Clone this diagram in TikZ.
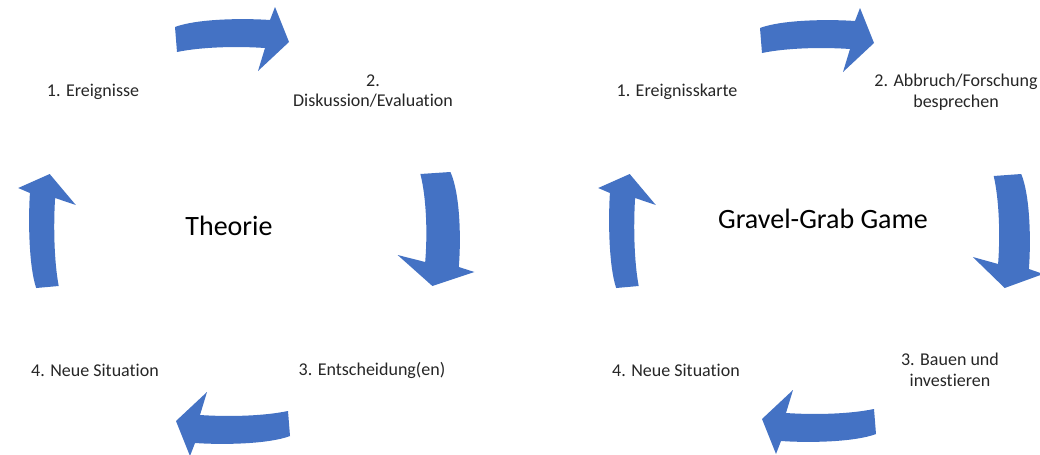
\documentclass[tikz,border=0pt]{standalone}
\usepackage{fontspec}
\setmainfont[Ligatures=NoCommon]{Carlito}
\definecolor{cycleblue}{RGB}{68,114,196}
\tikzset{
  lbl/.style={font=\fontsize{13.5}{15.5}\selectfont, align=center, text=black!85},
  ttl/.style={font=\fontsize{21}{24}\selectfont, text=black},
  blockarrow/.style={fill=cycleblue, draw=none},
}
% curved block arrow pointing right, centred at the origin
\newcommand{\bentarrow}[4]{% centre, rotation, cross scale, name
  \begin{scope}[shift={#1}, rotate=#2, yscale=#3]
    \path[blockarrow] (-56,-12) .. controls (-35,-20) and (10,-21) .. (39,-19)
      -- (44,-32) -- (58,3) -- (27,32) -- (34,9)
      .. controls (5,7) and (-30,8) .. (-54,13) -- cycle;
    \coordinate (#4) at (0,0);
  \end{scope}}
\begin{document}
\begin{tikzpicture}[x=0.75pt, y=-0.75pt]
\useasboundingbox (0,0) rectangle (1040,454);
\fill[white] (0,0) rectangle (1040,454);

% Theorie cycle
\node[ttl] (t0) at (229,226) {Theorie};
\node[lbl] (t1) at (93,92) {1. Ereignisse};
\node[lbl] (t2) at (373,91) {2.\\Diskussion/Evaluation};
\node[lbl] (t3) at (372,370) {3. Entscheidung(en)};
\node[lbl] (t4) at (95,370) {4. Neue Situation};
\bentarrow{(231,39)}{0}{1}{ta1}
\bentarrow{(436,228)}{-90}{1.2}{ta2}
\bentarrow{(234,424)}{180}{1}{ta3}
\bentarrow{(47,232)}{90}{0.9}{ta4}

% game cycle
\node[ttl] (g0) at (823,219) {Gravel-Grab Game};
\node[lbl] (g1) at (677,92) {1. Ereignisskarte};
\node[lbl] (g2) at (956,92) {2. Abbruch/Forschung\\besprechen};
\node[lbl] (g3) at (950,370) {3. Bauen und\\investieren};
\node[lbl] (g4) at (676,370) {4. Neue Situation};
\bentarrow{(816,40)}{0}{1}{ga1}
\bentarrow{(1008,230)}{-90}{1.1}{ga2}
\bentarrow{(820,422)}{180}{1}{ga3}
\bentarrow{(627,232)}{90}{0.9}{ga4}
\end{tikzpicture}
\end{document}
